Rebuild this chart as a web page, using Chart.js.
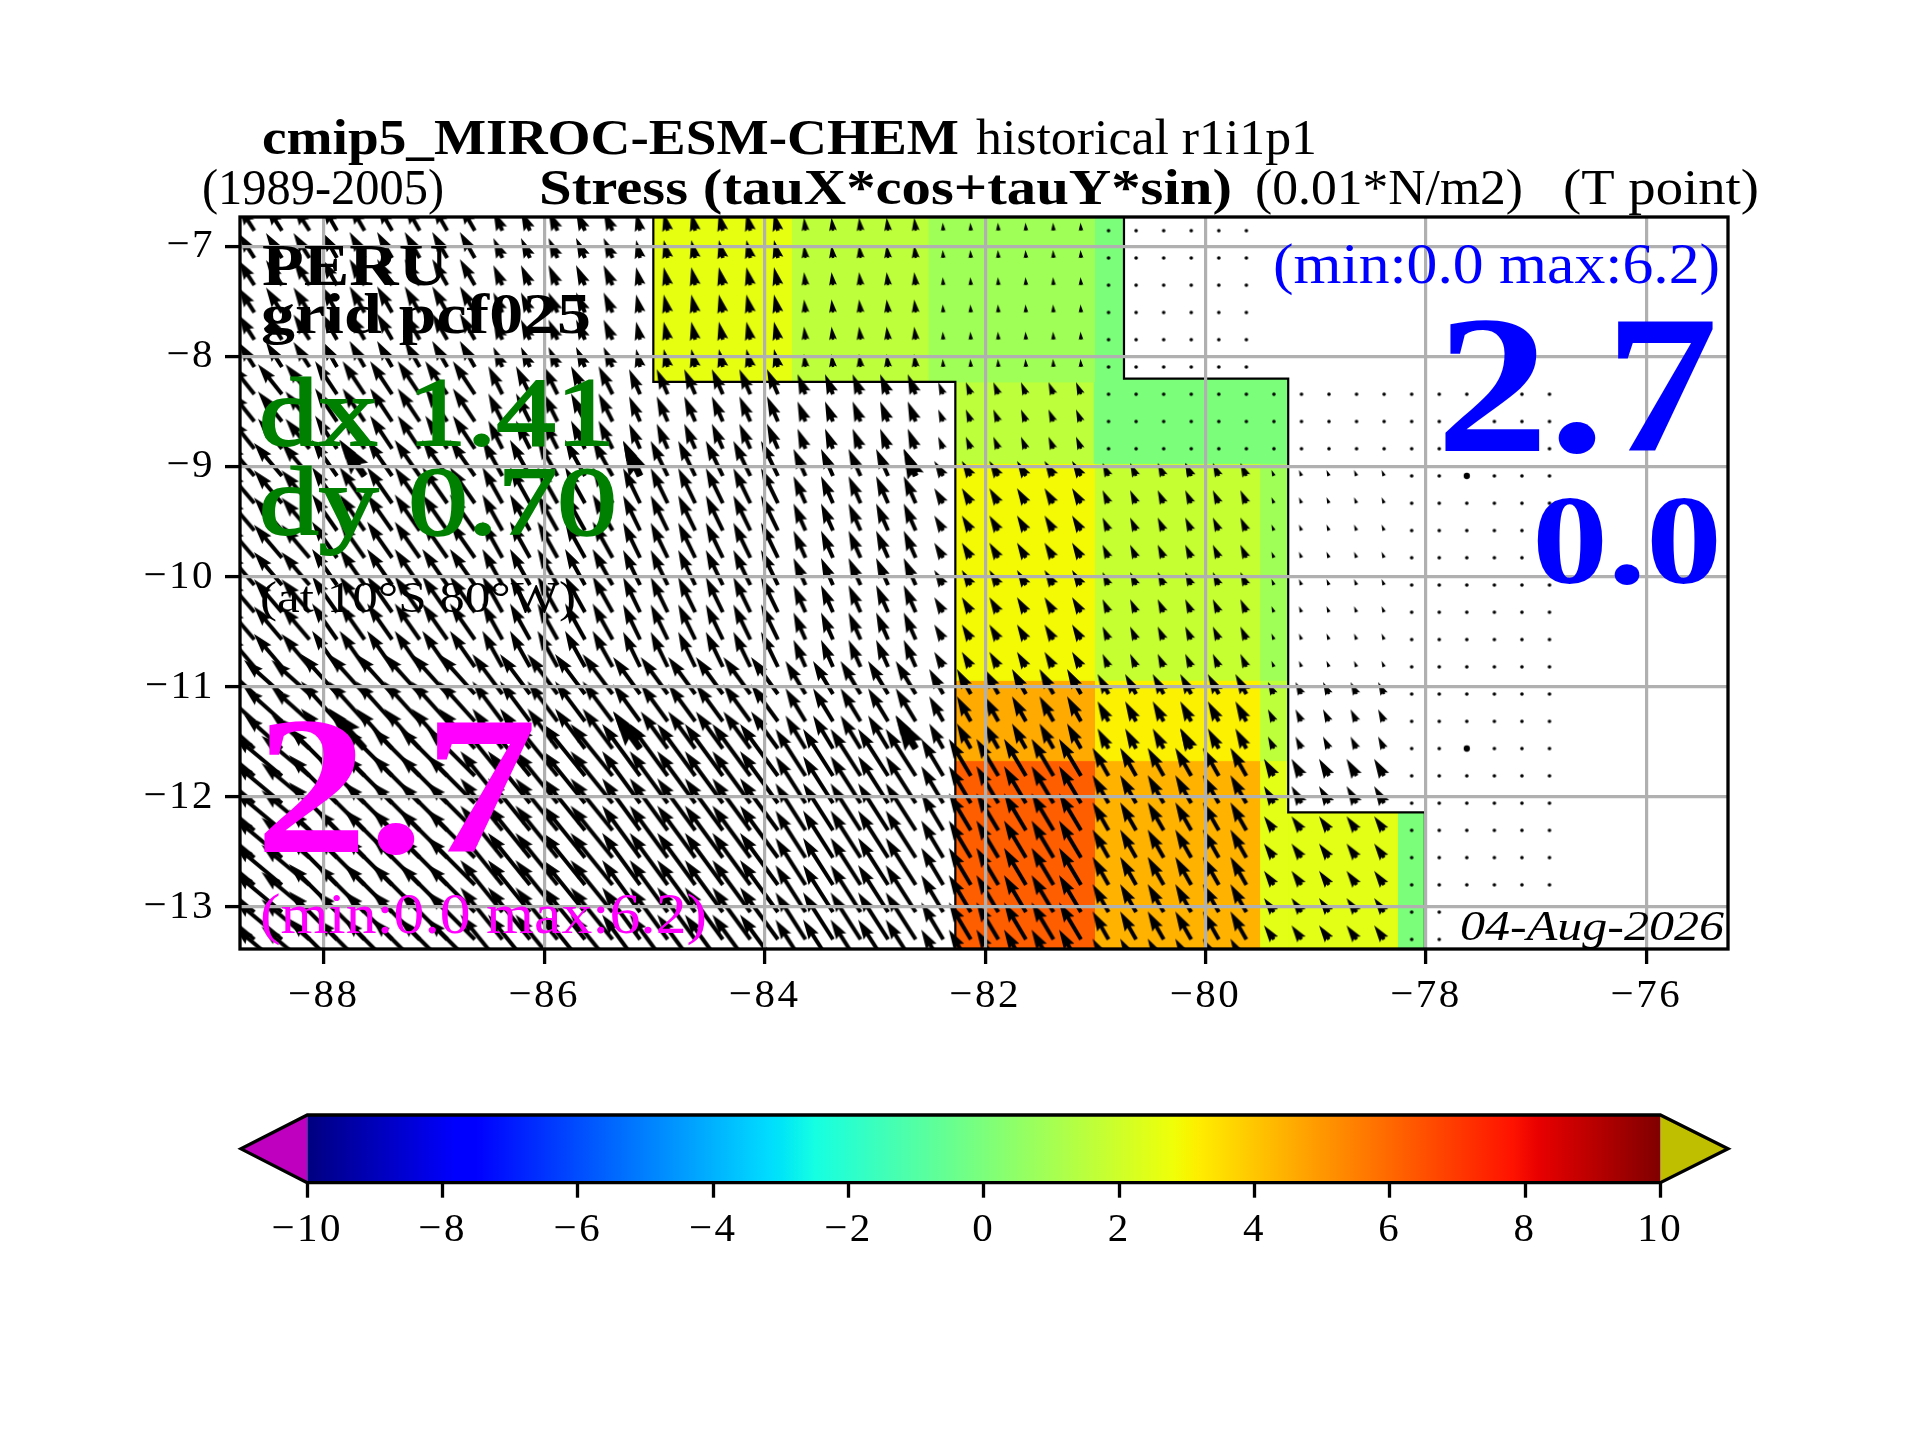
<!DOCTYPE html>
<html>
<head>
<meta charset="utf-8">
<title>cmip5 MIROC-ESM-CHEM stress</title>
<script src="https://cdn.jsdelivr.net/npm/chart.js"></script>
<style>
  html, body { margin: 0; padding: 0; background: #fff; }
  canvas { position: absolute; left: 0; top: 0; }
</style>
</head>
<body>
<canvas id="mapChart" width="1920" height="1440"></canvas>
<canvas id="barChart" width="1920" height="1440"></canvas>
<script>
// axes
const lonTicks = [-88, -86, -84, -82, -80, -78, -76];
const latTicks = [-7, -8, -9, -10, -11, -12, -13];
const lonMin = -88.76, lonMax = -75.26;
const latMin = -13.381, latMax = -6.732;

// colour blocks
const cellWest  = [-85.01, -83.76, -82.52, -81.01, -82.27, -80.74, -82.27, -81.01, -79.51, -82.27, -81.01, -79.51, -82.27, -81.01, -79.51, -79.25, -78.26];
const cellEast  = [-83.76, -82.52, -81.01, -80.74, -81.01, -79.25, -81.01, -79.51, -79.25, -81.01, -79.51, -79.25, -81.01, -79.51, -79.25, -78.26, -78.01];
const cellNorth = [-6.732, -6.732, -6.732, -6.732, -8.23, -8.20, -8.97, -8.97, -8.97, -10.94, -10.94, -10.94, -11.67, -11.67, -11.67, -12.14, -12.14];
const cellSouth = [-8.23, -8.23, -8.23, -8.97, -8.97, -8.97, -10.94, -10.94, -10.94, -11.67, -11.67, -11.67, -13.381, -13.381, -13.381, -13.381, -13.381];
const cellValue = [2.6, 1.6, 0.9, 0.0, 1.6, 0.0, 2.9, 1.8, 0.9, 4.6, 3.1, 1.6, 6.2, 4.4, 2.5, 2.5, 0.0];

// land mask outline
const outlineLon = [-85.01, -85.01, -82.27, -82.27];
const outlineLat = [-6.732, -8.23, -8.23, -13.381];
const outline2Lon = [-80.74, -80.74, -79.25, -79.25, -78.01, -78.01];
const outline2Lat = [-6.732, -8.20, -8.20, -12.14, -12.14, -13.381];

// arrow grid (tails)
const arrowLons = [-88.63, -88.38, -88.13, -87.88, -87.63, -87.38, -87.13, -86.88, -86.63, -86.38, -86.13, -85.88,
  -85.63, -85.38, -85.13, -84.88, -84.63, -84.38, -84.13, -83.88, -83.63, -83.38, -83.13, -82.88,
  -82.63, -82.38, -82.13, -81.88, -81.63, -81.38, -81.13, -80.88, -80.63, -80.38, -80.13, -79.88,
  -79.63, -79.38, -79.13, -78.88, -78.63, -78.38, -78.13, -77.88, -77.63, -77.38, -77.13, -76.88];
const arrowLats = [-6.856, -7.104, -7.351, -7.599, -7.846, -8.094, -8.342, -8.589, -8.837, -9.084, -9.332, -9.580, -9.827, -10.075,
  -10.322, -10.570, -10.818, -11.065, -11.313, -11.560, -11.808, -12.056, -12.303, -12.551, -12.798, -13.046, -13.294, -13.541];

// arrow vectors, one code per block, _ is no arrow
const vectorCode = 'abcdefghijklmnopqrstuvwxyzABCDEFGHIJK.';
const vectorU = [-16, -15, -9, -4, -1.5, -0.5, -24, -22, -14, -11, -8, -5, -28, -25, -20, -17, -12, -9, -6, -2.5,
  -38, -36, -30, -27, -20, -14, -11, -6, -48, -48, -42, -38, -30, -22, -16, -10, -10, 0];
const vectorV = [25, 26, 20, 18, 13, 8, 30, 33, 28, 25, 20, 12, 33, 36, 36, 35, 27, 15, 13, 6,
  34, 40, 40, 37, 33, 25, 20, 12, 40, 48, 52, 52, 47, 37, 28, 17, 14, 0];

const rowA = 'aaa bbbbbb ccccc dddddd eeeee ffffff ...... _____ ______';
const rowB = 'ggg hhhhhh iiiii jjjjjj kkkkk llllll ...... ..... ......';
const rowC = 'mmm nnnnnn ooooo pppppp qqqqq rrrrrr ssssss ttttt ......';
const rowD = 'uuu vvvvvv wwwww xxxxxx yyyyy zzzzzz AAAAAA BBBBB ......';
const rowE = 'CCC DDDDDD EEEEE FFFFFF GGGGG HHHHHH IIIIII JJJJJ ......';
const rowF = 'CCC DDDDDD EEEEE FFFFFF GGGGG HHHHHH IIIIII KKKKK ......';
const rowG = 'CCC DDDDDD EEEEE FFFFFF GGGGG HHHHHH IIIIII KKKKK ..____';
const arrowRows = [rowA, rowA, rowA, rowA, rowA, rowA, rowB, rowB, rowB,
  rowC, rowC, rowC, rowC, rowC, rowC, rowC, rowC,
  rowD, rowD, rowD, rowE, rowE, rowF, rowF, rowF, rowG, rowG, rowG];

// thick reference arrows, indexes into the grid
const thickCols = [4, 14, 24, 34, 44];
const thickRows = [9, 19];

// colour bar
const barTicks = [-10, -8, -6, -4, -2, 0, 2, 4, 6, 8, 10];
const barStops = [-10, -7.8, -7.5, -3.2, -3, -2.5, 2.8, 3, 3.2, 7.8, 8.2, 10];

const serif = '"Liberation Serif"';
const labels = [
  // text, left, baseline, width, font, colour, stroke
  ['cmip5_MIROC-ESM-CHEM', 262, 154, 697, 'bold 50px', '#000', 0],
  ['historical r1i1p1', 976, 154, 341, '50px', '#000', 0],
  ['(1989-2005)', 202, 204, 242, '50px', '#000', 0],
  ['Stress (tauX*cos+tauY*sin)', 539, 204, 693, 'bold 50px', '#000', 0],
  ['(0.01*N/m2)', 1255, 204, 268, '50px', '#000', 0],
  ['(T point)', 1563, 204, 196, '50px', '#000', 0],
  ['PERU', 262, 285, 186, 'bold 60px', '#000', 0],
  ['grid pcf025', 261, 333, 330, 'bold 58px', '#000', 0],
  ['dx 1.41', 259, 445, 356, '98px', '#008000', 2],
  ['dy 0.70', 259, 534, 358, '98px', '#008000', 2],
  ['(at 10°S 80°W)', 260, 612, 316, '44px', '#000', 0],
  ['2.7', 255, 852, 282, 'bold 198px', '#ff00ff', 0],
  ['(min:0.0 max:6.2)', 260, 933, 447, '57px', '#ff00ff', 0],
  ['(min:0.0 max:6.2)', 1273, 283, 447, '57px', '#0000ff', 0],
  ['2.7', 1436, 451, 282, 'bold 198px', '#0000ff', 0],
  ['0.0', 1532, 583, 190, 'bold 128px', '#0000ff', 0],
  ['04-Aug-2026', 1460, 940, 264, 'italic 42px', '#000', 0]
];

// matplotlib jet
const jetR = [[0, 0.35, 0.66, 0.89, 1], [0, 0, 1, 1, 0.5]];
const jetG = [[0, 0.125, 0.375, 0.64, 0.91, 1], [0, 0, 1, 1, 0, 0]];
const jetB = [[0, 0.11, 0.34, 0.65, 1], [0.5, 1, 1, 0, 0]];

function lookup(tab, t) {
  const [xs, ys] = tab;
  for (let i = 1; i < xs.length; i++) {
    if (t <= xs[i]) return ys[i - 1] + (ys[i] - ys[i - 1]) * (t - xs[i - 1]) / (xs[i] - xs[i - 1]);
  }
  return ys[ys.length - 1];
}

function jetColor(v) {
  const t = Math.min(1, Math.max(0, (v + 10) / 20));
  const c = [jetR, jetG, jetB].map(tab => Math.round(lookup(tab, t) * 255));
  return `rgb(${c[0]},${c[1]},${c[2]})`;
}

// quiver style arrow on its own canvas, tail in the centre
function arrowCanvas(u, v, w) {
  const len = Math.hypot(u, v);
  const half = Math.ceil(len + w * 3);
  const cv = document.createElement('canvas');
  cv.width = cv.height = half * 2;
  const c = cv.getContext('2d');
  c.translate(half, half);
  c.fillStyle = '#000';
  if (len < w) {
    c.beginPath();
    c.arc(0, 0, w * 0.45, 0, Math.PI * 2);
    c.fill();
    return cv;
  }
  c.rotate(Math.atan2(-v, u));
  const full = 5 * w;
  const k = len < full ? len / full : 1;
  const L = len / k;
  c.scale(k, k);
  c.beginPath();
  c.moveTo(0, -w / 2);
  c.lineTo(L - 4.5 * w, -w / 2);
  c.lineTo(L - 5 * w, -1.5 * w);
  c.lineTo(L, 0);
  c.lineTo(L - 5 * w, 1.5 * w);
  c.lineTo(L - 4.5 * w, w / 2);
  c.lineTo(0, w / 2);
  c.closePath();
  c.fill();
  return cv;
}

const thinArrows = vectorU.map((u, i) => arrowCanvas(u, vectorV[i], 4));
const thickArrows = vectorU.map((u, i) => arrowCanvas(u, vectorV[i], 7));

const arrowData = [], arrowStyles = [];
const thickData = [], thickStyles = [];
arrowRows.forEach((row, r) => {
  const codes = row.replace(/ /g, '');
  arrowLons.forEach((lon, c) => {
    const idx = vectorCode.indexOf(codes[c]);
    if (idx < 0) return;
    arrowData.push({ x: lon, y: arrowLats[r] });
    arrowStyles.push(thinArrows[idx]);
    if (thickRows.includes(r) && thickCols.includes(c)) {
      thickData.push({ x: lon, y: arrowLats[r] });
      thickStyles.push(thickArrows[idx]);
    }
  });
});

function rectPoints(w, e, n, s) {
  return [{ x: w, y: n }, { x: e, y: n }, { x: e, y: s }, { x: w, y: s }, { x: w, y: n }];
}

const cellDatasets = cellValue.map((v, i) => ({
  data: rectPoints(cellWest[i], cellEast[i], cellNorth[i], cellSouth[i]),
  showLine: true, fill: 'shape', tension: 0, pointRadius: 0,
  backgroundColor: jetColor(v), borderColor: jetColor(v), borderWidth: 1, order: 3
}));

function outlineDataset(lons, lats) {
  return {
    data: lons.map((x, i) => ({ x, y: lats[i] })),
    showLine: true, fill: false, tension: 0, pointRadius: 0,
    borderColor: '#000', borderWidth: 2.2, order: 2
  };
}

// tick labels in the reference sit a little wider than this serif
const tickSpacing = {
  id: 'tickSpacing',
  beforeDraw(chart) { chart.ctx.letterSpacing = '2.5px'; },
  afterDraw(chart) { chart.ctx.letterSpacing = '0px'; }
};

const frameAndText = {
  id: 'frameAndText',
  afterDraw(chart) {
    const { ctx, chartArea: a } = chart;
    ctx.save();
    ctx.letterSpacing = '0px';
    ctx.strokeStyle = '#000';
    ctx.lineWidth = 3.3;
    ctx.strokeRect(a.left, a.top, a.right - a.left, a.bottom - a.top);
    ctx.textBaseline = 'alphabetic';
    ctx.textAlign = 'left';
    labels.forEach(([text, x, y, width, font, color, stroke]) => {
      ctx.save();
      ctx.font = `${font} ${serif}`;
      ctx.fillStyle = color;
      ctx.translate(x, y);
      ctx.scale(width / ctx.measureText(text).width, 1);
      ctx.fillText(text, 0, 0);
      if (stroke) {
        ctx.strokeStyle = color;
        ctx.lineWidth = stroke;
        ctx.strokeText(text, 0, 0);
      }
      ctx.restore();
    });
    ctx.restore();
  }
};

const minusLabel = v => (v < 0 ? '\u2212' + Math.abs(v) : String(v));

new Chart(document.getElementById('mapChart'), {
  type: 'scatter',
  data: {
    datasets: [
      { data: thickData, pointStyle: thickStyles, pointRadius: 70, clip: 0, order: 0 },
      { data: arrowData, pointStyle: arrowStyles, pointRadius: 70, clip: 0, order: 1 },
      outlineDataset(outlineLon, outlineLat),
      outlineDataset(outline2Lon, outline2Lat),
      ...cellDatasets
    ]
  },
  options: {
    responsive: false,
    devicePixelRatio: 1,
    animation: false,
    events: [],
    layout: { padding: { left: 0, top: 217, right: 192, bottom: 0 } },
    plugins: { legend: { display: false }, tooltip: { enabled: false } },
    scales: {
      x: {
        type: 'linear', min: lonMin, max: lonMax,
        afterBuildTicks: s => { s.ticks = lonTicks.map(value => ({ value })); },
        afterFit: s => { s.height = 491; },
        border: { display: false },
        grid: { z: 1, color: '#b0b0b0', lineWidth: 3.2, tickColor: '#000', tickWidth: 3.3, tickLength: 15 },
        ticks: { color: '#000', autoSkip: false, maxRotation: 0, padding: 8, font: { family: serif, size: 41 }, callback: minusLabel }
      },
      y: {
        type: 'linear', min: latMin, max: latMax,
        afterBuildTicks: s => { s.ticks = latTicks.map(value => ({ value })); },
        afterFit: s => { s.width = 240; },
        border: { display: false },
        grid: { z: 1, color: '#b0b0b0', lineWidth: 3.2, tickColor: '#000', tickWidth: 3.3, tickLength: 15 },
        ticks: { color: '#000', autoSkip: false, padding: 10, font: { family: serif, size: 41 }, callback: minusLabel }
      }
    }
  },
  plugins: [tickSpacing, frameAndText]
});

// colour bar, extensions stick out past -10 and 10
const barMin = -10.98, barMax = 11.0;

function barGradient(ctx) {
  const { chart } = ctx;
  const s = chart.scales.x;
  if (!s || !chart.chartArea) return '#7bff7b';
  const x0 = s.getPixelForValue(-10), x1 = s.getPixelForValue(10);
  const g = chart.ctx.createLinearGradient(x0, 0, x1, 0);
  barStops.forEach(v => g.addColorStop((v + 10) / 20, jetColor(v)));
  return g;
}

new Chart(document.getElementById('barChart'), {
  type: 'scatter',
  data: {
    datasets: [
      {
        data: [{ x: -10, y: 0 }, { x: barMin, y: 0.5 }, { x: -10, y: 1 }, { x: 10, y: 1 }, { x: barMax, y: 0.5 }, { x: 10, y: 0 }, { x: -10, y: 0 }],
        showLine: true, fill: false, tension: 0, pointRadius: 0, borderColor: '#000', borderWidth: 3.3, clip: 4, order: 0
      },
      {
        data: rectPoints(-10, 10, 1, 0),
        showLine: true, fill: 'shape', tension: 0, pointRadius: 0, borderWidth: 0, backgroundColor: barGradient, order: 1
      },
      {
        data: [{ x: -10, y: 0 }, { x: barMin, y: 0.5 }, { x: -10, y: 1 }, { x: -10, y: 0 }],
        showLine: true, fill: 'shape', tension: 0, pointRadius: 0, borderWidth: 0, backgroundColor: '#bf00bf', order: 2
      },
      {
        data: [{ x: 10, y: 0 }, { x: barMax, y: 0.5 }, { x: 10, y: 1 }, { x: 10, y: 0 }],
        showLine: true, fill: 'shape', tension: 0, pointRadius: 0, borderWidth: 0, backgroundColor: '#bfbf00', order: 2
      }
    ]
  },
  options: {
    responsive: false,
    devicePixelRatio: 1,
    animation: false,
    events: [],
    layout: { padding: { left: 241, top: 1115, right: 192, bottom: 0 } },
    plugins: { legend: { display: false }, tooltip: { enabled: false } },
    scales: {
      x: {
        type: 'linear', min: barMin, max: barMax,
        afterBuildTicks: s => { s.ticks = barTicks.map(value => ({ value })); },
        afterFit: s => { s.height = 257.3; },
        border: { display: false },
        grid: { drawOnChartArea: false, tickColor: '#000', tickWidth: 3.3, tickLength: 15 },
        ticks: { color: '#000', autoSkip: false, maxRotation: 0, padding: 8, font: { family: serif, size: 41 }, callback: minusLabel }
      },
      y: { type: 'linear', min: 0, max: 1, display: false }
    }
  },
  plugins: [tickSpacing]
});
</script>
</body>
</html>
